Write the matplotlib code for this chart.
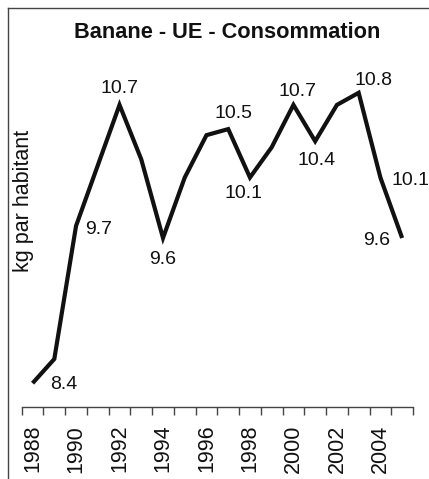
import matplotlib
matplotlib.use("Agg")
import matplotlib.pyplot as plt
from matplotlib.lines import Line2D

plt.rcParams['font.family'] = ['Liberation Sans', 'DejaVu Sans']

# data
years = list(range(1988, 2006))
conso = [8.4, 8.6, 9.7, 10.2, 10.7, 10.25, 9.6, 10.1, 10.45, 10.5,
         10.1, 10.35, 10.7, 10.4, 10.7, 10.8, 10.1, 9.6]
labelled_years = [1988, 1990, 1992, 1994, 1997, 1998, 2000, 2001, 2003, 2004, 2005]
tick_years = list(range(1988, 2005, 2))

# where each value label sits relative to its point (pixels)
label_offsets = {
    1988: (31, -1), 1990: (23, -4), 1992: (0, 16), 1994: (0, -22),
    1997: (5, 16), 1998: (-6, -16), 2000: (4, 13), 2001: (1, -19),
    2003: (15, 12), 2004: (30, -3), 2005: (-26, -3),
}

ink = '#111111'
W, H = 429, 479

fig = plt.figure(figsize=(W / 100, H / 100), dpi=100)
fig.patch.set_facecolor('white')

# outer frame of the original chart: only left and top edges are visible
fx, fy = 7.5 / W, 1 - 7.5 / H
fig.add_artist(Line2D([fx, fx], [0, fy], transform=fig.transFigure,
                      color='#444444', linewidth=1.0))
fig.add_artist(Line2D([fx, 1], [fy, fy], transform=fig.transFigure,
                      color='#444444', linewidth=1.0))

ax = fig.add_axes([21.7 / W, 1 - 407.4 / H, 391.3 / W, 363 / H])
ax.set_facecolor('none')

x = list(range(len(years)))
ax.plot(x, conso, color=ink, linewidth=3.0, solid_joinstyle='miter',
        solid_capstyle='butt')

for yr in labelled_years:
    i = years.index(yr)
    dx, dy = label_offsets[yr]
    ax.annotate(f"{conso[i]:.1f}", (i, conso[i]), xytext=(dx, dy),
                textcoords='offset pixels', ha='center', va='center',
                fontsize=14, color=ink, annotation_clip=False)

ax.set_xlim(-0.5, len(years) - 0.5)
ax.set_ylim(8.2, 11.2)

ax.set_xticks([years.index(y) for y in tick_years])
ax.set_xticklabels([str(y) for y in tick_years], rotation=90, fontsize=15.5,
                   color=ink)
ax.set_xticks([i - 0.5 for i in range(len(years) + 1)], minor=True)
ax.tick_params(axis='x', which='major', length=0, pad=12.5)
ax.tick_params(axis='x', which='minor', length=5.5, width=1.0, color='#444444')
ax.set_yticks([])

for side in ['left', 'right', 'top']:
    ax.spines[side].set_visible(False)
ax.spines['bottom'].set_color('#444444')
ax.spines['bottom'].set_linewidth(1.0)

fig.text(227 / W, 1 - 32 / H, "Banane - UE - Consommation",
         ha='center', va='center', fontsize=15.7, fontweight='bold', color=ink)
fig.text(24 / W, 1 - 201 / H, "kg par habitant", rotation=90,
         ha='center', va='center', fontsize=15.5, color=ink)

fig.savefig("out.png", dpi=100, facecolor='white')
